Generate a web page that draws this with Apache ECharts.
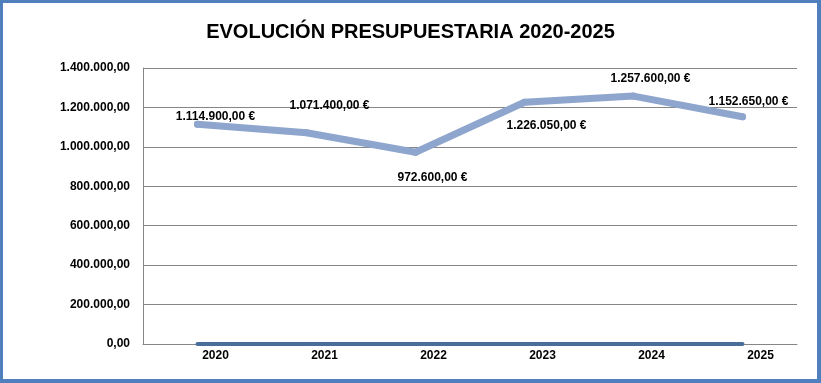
<!DOCTYPE html>
<html>
<head>
<meta charset="utf-8">
<script src="https://cdn.jsdelivr.net/npm/echarts@6/dist/echarts.min.js"></script>
<style>
html,body{margin:0;padding:0;background:#fff;}
#frame{position:absolute;left:0;top:0;width:821px;height:383px;box-sizing:border-box;border-style:solid;border-color:#4f7fbd;border-width:3px 4px 4px 3px;background:#fff;}
#chart{position:absolute;left:0;top:0;width:821px;height:383px;}
</style>
</head>
<body>
<div id="frame"></div>
<div id="chart"></div>
<script>
const titleText = 'EVOLUCIÓN PRESUPUESTARIA 2020-2025';
const years = ['2020', '2021', '2022', '2023', '2024', '2025'];
const budget = [1114900, 1071400, 972600, 1226050, 1257600, 1152650];
const baseline = [0, 0, 0, 0, 0, 0];
const yMin = 0;
const yMax = 1400000;
const yStep = 200000;

function fmtEs(v) {
  const parts = v.toFixed(2).split('.');
  const intPart = parts[0].replace(/\B(?=(\d{3})+(?!\d))/g, '.');
  return intPart + ',' + parts[1];
}

const FONT = "'Liberation Sans', Arial, sans-serif";
// per-point label placement (style only)
const labelOffsets = [[18, -8], [23, -27], [17, 25], [22, 23], [17, -17], [6, -15]];

const budgetData = budget.map((v, i) => ({
  value: v,
  label: { offset: labelOffsets[i] }
}));

const chart = echarts.init(document.getElementById('chart'), null, { renderer: 'canvas' });
chart.setOption({
  animation: false,
  backgroundColor: 'transparent',
  title: {
    text: titleText,
    left: 'center',
    top: 17,
    textStyle: { fontFamily: FONT, fontSize: 20, fontWeight: 'bold', color: '#000' }
  },
  grid: { left: 143, right: 24, top: 68, bottom: 39 },
  xAxis: {
    type: 'category',
    data: years,
    boundaryGap: true,
    axisLine: { show: true, lineStyle: { color: '#868686', width: 1 } },
    axisTick: { show: false },
    axisLabel: {
      margin: 6,
      padding: [0, 0, 0, 36],
      fontFamily: FONT, fontSize: 12, fontWeight: 'bold', color: '#000'
    },
    splitLine: { show: false }
  },
  yAxis: {
    type: 'value',
    min: yMin, max: yMax, interval: yStep,
    axisLine: { show: true, lineStyle: { color: '#868686', width: 1 } },
    axisTick: { show: false },
    axisLabel: {
      margin: 13,
      formatter: v => fmtEs(v),
      fontFamily: FONT, fontSize: 12, fontWeight: 'bold', color: '#000'
    },
    splitLine: { show: true, lineStyle: { color: '#868686', width: 1 } }
  },
  series: [
    {
      type: 'line',
      data: baseline,
      symbol: 'none',
      lineStyle: { color: '#4a6e9c', width: 4, cap: 'round' },
      z: 2
    },
    {
      type: 'line',
      data: budgetData,
      symbol: 'circle',
      symbolSize: 7,
      itemStyle: { color: '#8ea5cd' },
      lineStyle: { color: '#8ea5cd', width: 7, cap: 'round', join: 'round' },
      label: {
        show: true,
        position: 'inside',
        formatter: p => fmtEs(p.value) + ' €',
        fontFamily: FONT, fontSize: 12, fontWeight: 'bold', color: '#000'
      },
      z: 3
    }
  ]
});
</script>
</body>
</html>
